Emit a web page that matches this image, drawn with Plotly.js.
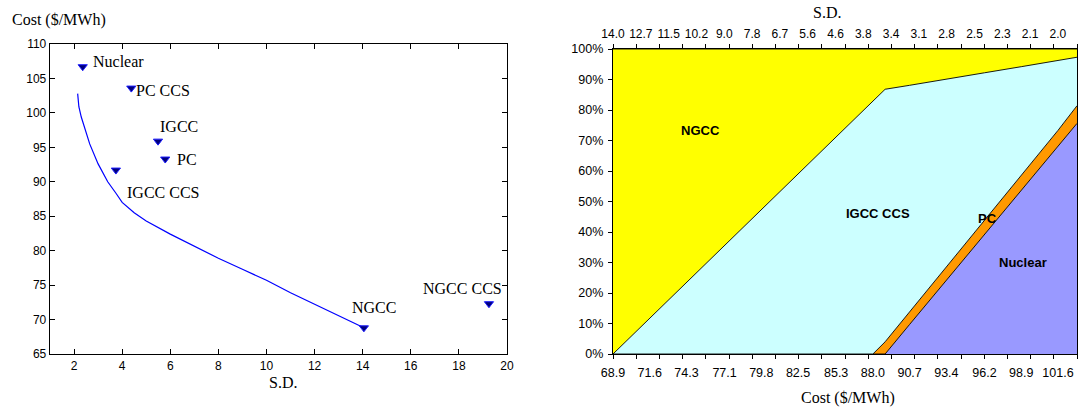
<!DOCTYPE html>
<html>
<head>
<meta charset="utf-8">
<script src="https://cdn.plot.ly/plotly-3.0.1.min.js"></script>
<style>
html,body{margin:0;padding:0;background:#ffffff;}
#chart{width:1080px;height:408px;}
</style>
</head>
<body>
<div id="chart"></div>
<script>
// ---------- Left chart data ----------
const techNames = ['Nuclear', 'PC CCS', 'IGCC', 'PC', 'IGCC CCS', 'NGCC', 'NGCC CCS'];
const techSD    = [2.36, 4.38, 5.49, 5.79, 3.74, 14.05, 19.25];
const techCost  = [106.7, 103.6, 95.9, 93.3, 91.7, 68.8, 72.3];

const frontierSD   = [2.15, 2.2, 2.3, 2.45, 2.65, 3.0, 3.4, 3.75, 4.0, 4.5, 5.0, 6.0, 7.0, 8.0, 9.0, 10.0, 11.0, 12.0, 13.0, 14.05];
const frontierCost = [102.8, 100.9, 99.4, 97.7, 95.5, 92.6, 90.0, 88.3, 87.0, 85.5, 84.3, 82.4, 80.6, 78.9, 77.3, 75.7, 73.9, 72.2, 70.5, 68.8];

const leftXTicks = [2, 4, 6, 8, 10, 12, 14, 16, 18, 20];
const leftYTicks = [65, 70, 75, 80, 85, 90, 95, 100, 105, 110];

// ---------- Right chart data (share of portfolio, %) ----------
const mixCost    = [68.9, 71.6, 74.3, 77.1, 79.8, 82.5, 85.3, 88.0, 88.9, 90.7, 93.4, 96.2, 98.9, 101.2, 101.6, 103.0];
const shareNuclear = [0, 0, 0, 0, 0, 0, 0, 0, 0, 9.7, 24.2, 39.3, 53.8, 66.1, 68.2, 75.6];
const sharePC      = [0, 0, 0, 0, 0, 0, 0, 0, 4.0, 4.1, 4.3, 4.5, 4.7, 4.9, 5.1, 5.8];
const shareIGCCCCS = [0, 11.7, 23.4, 35.6, 47.3, 59.1, 71.2, 82.9, 82.8, 74.3, 61.7, 48.4, 35.7, 25.0, 23.0, 15.9];
const shareNGCC    = [100, 88.3, 76.6, 64.4, 52.7, 40.9, 28.8, 17.1, 13.2, 11.9, 9.8, 7.8, 5.8, 4.0, 3.7, 2.7];

const costTickVals   = [68.9, 71.6, 74.3, 77.1, 79.8, 82.5, 85.3, 88.0, 90.7, 93.4, 96.2, 98.9, 101.6];
const costTickLabels = ['68.9', '71.6', '74.3', '77.1', '79.8', '82.5', '85.3', '88.0', '90.7', '93.4', '96.2', '98.9', '101.6'];
const sdTopLabels    = ['14.0', '12.7', '11.5', '10.2', '9.0', '7.8', '6.7', '5.6', '4.6', '3.8', '3.4', '3.1', '2.8', '2.5', '2.3', '2.1', '2.0'];
const pctTickVals    = [0, 10, 20, 30, 40, 50, 60, 70, 80, 90, 100];
const pctTickLabels  = ['0%', '10%', '20%', '30%', '40%', '50%', '60%', '70%', '80%', '90%', '100%'];

const areaLabelNames = ['NGCC', 'IGCC CCS', 'PC', 'Nuclear'];
const areaLabelCost  = [75.3, 88.4, 96.4, 99.0];
const areaLabelPct   = [73.2, 46.1, 44.5, 29.9];

// ---------- styling helpers ----------
const W = 1080, H = 408;
const px = v => v / W;
const py = v => 1 - v / H;
const serif = 'Liberation Serif, Times New Roman, serif';
const sans = 'Liberation Sans, Arial, sans-serif';

// frame tick marks of the right chart: 20 equal intervals across the plot
const COST_MIN = 68.9, COST_MAX = 103.0, TOP_MAX = 16.685, N_FRAME_TICKS = 20;
const frameTicksCost = [], frameTicksTop = [];
for (let k = 0; k <= N_FRAME_TICKS; k++) {
  frameTicksCost.push(COST_MIN + k * (COST_MAX - COST_MIN) / N_FRAME_TICKS);
  frameTicksTop.push(k * TOP_MAX / N_FRAME_TICKS);
}
const topTickIdx = sdTopLabels.map((_, i) => i);

const traces = [
  {
    x: frontierSD, y: frontierCost, type: 'scatter', mode: 'lines',
    line: {color: '#0000ff', width: 1.2}, xaxis: 'x', yaxis: 'y', hoverinfo: 'skip'
  },
  {
    x: techSD, y: techCost, type: 'scatter', mode: 'markers',
    marker: {symbol: 'triangle-down', size: 8, color: '#00007a', line: {color: '#1a1aff', width: 1}},
    xaxis: 'x', yaxis: 'y'
  }
];

const areaSeries = [
  {name: 'Nuclear', y: shareNuclear, color: '#9999ff'},
  {name: 'PC', y: sharePC, color: '#ff9900'},
  {name: 'IGCC CCS', y: shareIGCCCCS, color: '#ccffff'},
  {name: 'NGCC', y: shareNGCC, color: '#ffff00'}
];
areaSeries.forEach(s => {
  traces.push({
    x: mixCost, y: s.y, name: s.name, type: 'scatter', mode: 'lines',
    stackgroup: 'mix', fillcolor: s.color,
    line: {color: '#000000', width: 0.9, shape: 'linear'},
    xaxis: 'x2', yaxis: 'y2'
  });
});
// empty carrier trace so the top S.D. axis is created (draws nothing)
traces.push({
  x: topTickIdx, y: topTickIdx.map(() => null), type: 'scatter', mode: 'none',
  xaxis: 'x3', yaxis: 'y2', hoverinfo: 'skip', showlegend: false
});

// label offsets (pixels) for left-chart point labels
const labelShift = [[8, 5], [3, -2], [0, 15], [10, 0], [9, -22], [-14, 20], [-68, 15]];

const annotations = [];
techNames.forEach((n, i) => {
  annotations.push({
    x: techSD[i], y: techCost[i], xref: 'x', yref: 'y', text: n, showarrow: false,
    xanchor: 'left', yanchor: 'middle', xshift: labelShift[i][0], yshift: labelShift[i][1],
    font: {family: serif, size: 16, color: '#000'}
  });
});
areaLabelNames.forEach((n, i) => {
  annotations.push({
    x: areaLabelCost[i], y: areaLabelPct[i], xref: 'x2', yref: 'y2', text: '<b>' + n + '</b>',
    showarrow: false, xanchor: 'center', yanchor: 'middle',
    font: {family: sans, size: 13, color: '#000'}
  });
});
// axis titles
annotations.push({x: px(10), y: py(20), xref: 'paper', yref: 'paper', text: 'Cost ($/MWh)', showarrow: false,
  xanchor: 'left', yanchor: 'middle', font: {family: serif, size: 16, color: '#000'}});
annotations.push({x: px(283), y: py(382), xref: 'paper', yref: 'paper', text: 'S.D.', showarrow: false,
  xanchor: 'center', yanchor: 'middle', font: {family: serif, size: 16, color: '#000'}});
annotations.push({x: px(827), y: py(12), xref: 'paper', yref: 'paper', text: 'S.D.', showarrow: false,
  xanchor: 'center', yanchor: 'middle', font: {family: serif, size: 16, color: '#000'}});
annotations.push({x: px(848), y: py(398), xref: 'paper', yref: 'paper', text: 'Cost ($/MWh)', showarrow: false,
  xanchor: 'center', yanchor: 'middle', font: {family: serif, size: 16, color: '#000'}});

const axBase = {showgrid: false, zeroline: false, fixedrange: true, linecolor: '#000', tickcolor: '#000'};

const layout = {
  width: W, height: H,
  margin: {l: 0, r: 0, t: 0, b: 0, pad: 0},
  paper_bgcolor: '#ffffff', plot_bgcolor: '#ffffff',
  showlegend: false,
  hovermode: false,
  xaxis: Object.assign({}, axBase, {
    domain: [px(50), px(507)], anchor: 'y', range: [1, 20], tickmode: 'array', tickvals: leftXTicks,
    ticks: 'inside', ticklen: 5, tickwidth: 1, showline: true, linewidth: 1.3, mirror: 'ticks',
    tickfont: {family: sans, size: 12, color: '#000'}
  }),
  yaxis: Object.assign({}, axBase, {
    domain: [py(354), py(44)], anchor: 'x', range: [65, 110], tickmode: 'array', tickvals: leftYTicks,
    ticks: 'inside', ticklen: 5, tickwidth: 1, showline: true, linewidth: 1.3, mirror: 'ticks',
    tickfont: {family: sans, size: 12, color: '#000'}
  }),
  xaxis2: Object.assign({}, axBase, {
    domain: [px(613), px(1077)], anchor: 'y2', range: [COST_MIN, COST_MAX], tickmode: 'array',
    tickvals: costTickVals, ticktext: costTickLabels, ticks: '', showline: true, linewidth: 1.2, mirror: true,
    ticklabelstandoff: 7,
    minor: {tickmode: 'array', tickvals: frameTicksCost, ticks: 'outside', ticklen: 4, tickwidth: 1, tickcolor: '#000', showgrid: false},
    tickfont: {family: sans, size: 12.5, color: '#000'}
  }),
  yaxis2: Object.assign({}, axBase, {
    domain: [py(354), py(49)], anchor: 'x2', range: [0, 100], tickmode: 'array',
    tickvals: pctTickVals, ticktext: pctTickLabels, ticks: 'outside', ticklen: 4, tickwidth: 1,
    showline: true, linewidth: 1.2, mirror: true, ticklabelstandoff: 2,
    tickfont: {family: sans, size: 12.5, color: '#000'}
  }),
  xaxis3: Object.assign({}, axBase, {
    overlaying: 'x2', anchor: 'y2', side: 'top', range: [0, TOP_MAX], tickmode: 'array',
    tickvals: topTickIdx, ticktext: sdTopLabels, ticks: '', showline: false,
    ticklabelstandoff: 8,
    minor: {tickmode: 'array', tickvals: frameTicksTop, ticks: 'outside', ticklen: 4, tickwidth: 1, tickcolor: '#000', showgrid: false},
    tickfont: {family: sans, size: 12, color: '#000'}
  }),
  annotations: annotations
};

Plotly.newPlot('chart', traces, layout, {staticPlot: true, displayModeBar: false});
</script>
</body>
</html>
